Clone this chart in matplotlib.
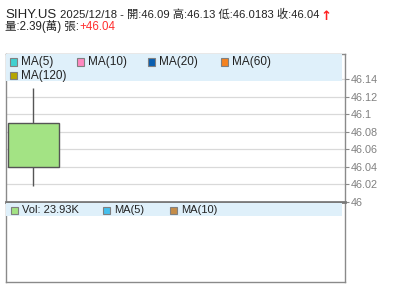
import matplotlib
matplotlib.use("Agg")
import matplotlib.pyplot as plt
from matplotlib.patches import Rectangle

plt.rcParams['font.family'] = ['Liberation Sans', 'Noto Sans CJK TC', 'DejaVu Sans']

# ---- data ----
symbol = "SIHY.US"
date = "2025/12/18"
open_ = [46.09]
high = [46.13]
low = [46.0183]
close = [46.04]
volume_k = [23.93]
vol_wan = 2.39
change = "+46.04"
yticks = [46, 46.02, 46.04, 46.06, 46.08, 46.1, 46.12, 46.14]
ytick_labels = ["46", "46.02", "46.04", "46.06", "46.08", "46.1", "46.12", "46.14"]
ma_labels = ["MA(5)", "MA(10)", "MA(20)", "MA(60)", "MA(120)"]
ma_colors = ["#3fd0d0", "#ff88c0", "#0a5fb0", "#f5821f", "#b5a600"]
vol_labels = ["MA(5)", "MA(10)"]
vol_colors = ["#44c0ee", "#c48c48"]

W, H = 400, 301
fig = plt.figure(figsize=(W / 100, H / 100), dpi=100)

def ax_rect(l, t, r, b):
    return [l / W, 1 - b / H, (r - l) / W, (b - t) / H]

gray = "#8a8a8a"
band = "#dff0fa"

# main price axes
ax = fig.add_axes(ax_rect(5.5, 54, 345, 202))
ax.set_xlim(-0.44, 4.94)
ax.set_ylim(46, 46.169)
ax.yaxis.tick_right()
ax.set_yticks(yticks)
ax.set_yticklabels(ytick_labels)
ax.tick_params(axis='y', colors=gray, labelcolor="#808080", labelsize=7.8, length=3, pad=1, width=0.8)
ax.set_xticks([])
ax.grid(axis='y', color="#d9d9d9", linewidth=0.9)
ax.set_axisbelow(True)
for s in ['left', 'right', 'top']:
    ax.spines[s].set_color(gray)
    ax.spines[s].set_linewidth(1)
ax.spines['bottom'].set_visible(False)

# candles
bw = 0.8
for i, (o, h, l, c) in enumerate(zip(open_, high, low, close)):
    ax.vlines(i, l, h, color="#555555", linewidth=1, zorder=3)
    ax.add_patch(Rectangle((i - bw / 2, min(o, c)), bw, abs(o - c),
                           facecolor="#a3e384", edgecolor="#555555", linewidth=1, zorder=4))

# legend band on main axes
ax.add_patch(Rectangle((0, 1 - 27 / 148), 0.992, 27 / 148, transform=ax.transAxes,
                       facecolor=band, edgecolor='none', zorder=5))

def legend_item(x, y, color, label, size=8.5):
    fig.patches.append(Rectangle((x / W, 1 - (y + 3.5) / H), 7 / W, 7 / H,
                                 transform=fig.transFigure, facecolor=color,
                                 edgecolor="#808080", linewidth=0.8, zorder=10))
    fig.text((x + 11) / W, 1 - y / H, label, fontsize=size, va='center', ha='left',
             color="#222222", zorder=10)

pos = [(10, 62), (77, 62), (148, 62), (221, 62), (10, 75.5)]
for (x, y), c, lab in zip(pos, ma_colors, ma_labels):
    legend_item(x, y, c, lab)

# volume axes
vax = fig.add_axes(ax_rect(5.5, 202, 345, 282))
vax.set_xlim(-0.44, 4.94)
vax.set_ylim(0, 1)
vax.set_xticks([])
vax.set_yticks([])
for s in ['left', 'right', 'bottom']:
    vax.spines[s].set_color(gray)
    vax.spines[s].set_linewidth(1)
vax.spines['top'].set_color("#7a7a7a")
vax.spines['top'].set_linewidth(2)
vax.add_patch(Rectangle((0, 1 - 14 / 80), 0.992, 13 / 80, transform=vax.transAxes,
                        facecolor=band, edgecolor='none', zorder=5))
legend_item(10.5, 210, "#a3e384", f"Vol: {volume_k[0]:.2f}K", size=8)
legend_item(103.5, 210, vol_colors[0], vol_labels[0], size=8)
legend_item(170, 210, vol_colors[1], vol_labels[1], size=8)

# header text
fig.canvas.draw()
r = fig.canvas.get_renderer()

def put(x, ybase, s, size, color="#222222", weight='normal', family=None):
    kw = {}
    if family:
        kw['family'] = family
    t = fig.text(x / W, 1 - ybase / H, s, fontsize=size, color=color, va='baseline',
                 ha='left', fontweight=weight, **kw)
    bb = t.get_window_extent(renderer=r)
    return bb.x1

x = put(5.5, 17.5, symbol, 9.5)
x = put(x + 3, 17.5, f"{date} - 開:{open_[0]} 高:{high[0]} 低:{low[0]} 收:{close[0]}", 8.15)
put(x + 1, 20, "↑", 9.5, color="#ff2020", weight='bold', family=['DejaVu Sans'])
x = put(5, 30, f"量:{vol_wan}(萬) 張:", 8.3)
put(x, 30, change, 8.3, color="#ff3030")

fig.savefig("out.png", dpi=100)
